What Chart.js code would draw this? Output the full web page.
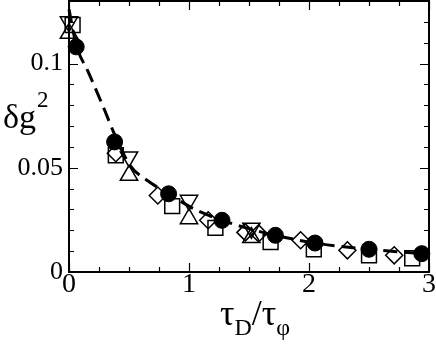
<!DOCTYPE html>
<html><head><meta charset="utf-8">
<script src="https://cdn.jsdelivr.net/npm/chart.js@4.4.1/dist/chart.umd.min.js"></script>
<style>html,body{margin:0;padding:0;background:#fff;overflow:hidden}#c{display:block}</style>
</head><body>
<canvas id="c" width="436" height="344"></canvas>
<script>
// ---- data ----
const circleX  = [0.06, 0.38, 0.83, 1.275, 1.72, 2.05, 2.50, 2.94];
const circleY  = [0.108, 0.0624, 0.0375, 0.0248, 0.0176, 0.0139, 0.0109, 0.0088];
const squareX  = [0.03, 0.39, 0.86, 1.22, 1.68, 2.04, 2.50, 2.86];
const squareY  = [0.1185, 0.056, 0.0316, 0.0212, 0.0143, 0.0109, 0.0080, 0.0066];
const diamondX = [0.39, 0.74, 1.16, 1.47, 1.58, 1.93, 2.32, 2.71];
const diamondY = [0.057, 0.0367, 0.0248, 0.0190, 0.0185, 0.0152, 0.0104, 0.0080];
const triDownX = [0.0, 0.5, 1.0, 1.52];
const triDownY = [0.120, 0.0552, 0.0344, 0.0210];
const triUpX   = [0.0, 0.5, 1.0, 1.52];
const triUpY   = [0.1145, 0.0464, 0.0256, 0.0165];
const fitX = [0, 0.06, 0.16, 0.28, 0.38, 0.51, 0.65, 0.83, 1.05, 1.275, 1.5, 1.72, 2.05, 2.5, 2.94];
const fitY = [0.126, 0.109, 0.096, 0.080, 0.066, 0.051, 0.044, 0.0375, 0.0300, 0.0248, 0.0208, 0.0176, 0.0139, 0.0109, 0.0088];
const xTickLabels = [0, 1, 2, 3];
const yTickLabels = [0, 0.05, 0.1];

const pts = (xs, ys) => xs.map((x, i) => ({x: x, y: ys[i]}));
const SERIF = '"Liberation Serif", "Times New Roman", serif';

const framePlugin = {
  id: 'frame',
  beforeDatasetsDraw(chart) {
    const ctx = chart.ctx, a = chart.chartArea, xs = chart.scales.x, ys = chart.scales.y;
    ctx.save();
    ctx.strokeStyle = '#000';
    ctx.lineWidth = 1.2;
    ctx.beginPath();
    for (let i = 0; i <= 12; i++) {
      const px = Math.round(xs.getPixelForValue(i * 0.25)) + 0.5;
      const L = (i % 4 === 0) ? 9 : 5;
      ctx.moveTo(px, a.bottom); ctx.lineTo(px, a.bottom - L);
      ctx.moveTo(px, a.top); ctx.lineTo(px, a.top + L);
    }
    for (let i = 0; i <= 12; i++) {
      const py = Math.round(ys.getPixelForValue(i * 0.01)) + 0.5;
      const L = (i % 5 === 0) ? 9 : 5;
      ctx.moveTo(a.left, py); ctx.lineTo(a.left + L, py);
      ctx.moveTo(a.right, py); ctx.lineTo(a.right - L, py);
    }
    ctx.stroke();
    ctx.lineWidth = 2;
    ctx.strokeRect(a.left, a.top, a.right - a.left, a.bottom - a.top);
    ctx.restore();
  },
  afterDraw(chart) {
    const ctx = chart.ctx;
    ctx.save();
    ctx.fillStyle = '#000';
    ctx.textBaseline = 'alphabetic';
    ctx.textAlign = 'left';
    // x title: tau_D / tau_phi
    const big = '36px ' + SERIF, small = '24px ' + SERIF;
    const parts = [['τ', big, 0], ['D', small, 10], ['/', big, 0], ['τ', big, 0], ['φ', small, 10]];
    let total = 0;
    parts.forEach(p => { ctx.font = p[1]; total += ctx.measureText(p[0]).width; });
    let x = 255 - total / 2;
    parts.forEach(p => { ctx.font = p[1]; ctx.fillText(p[0], x, 325 + p[2]); x += ctx.measureText(p[0]).width; });
    // y title: delta g^2
    ctx.font = '34px ' + SERIF;
    ctx.fillText('δg', 3, 128);
    const w = ctx.measureText('δg').width;
    ctx.font = '23px ' + SERIF;
    ctx.fillText('2', 3 + w + 1, 107);
    ctx.restore();
  }
};

const openStyle = {backgroundColor: 'rgba(0,0,0,0)', borderColor: '#000', pointBorderWidth: 1.5, clip: false};

new Chart(document.getElementById('c'), {
  type: 'scatter',
  data: {
    datasets: [
      {data: pts(circleX, circleY), pointStyle: 'circle', pointRadius: 8, backgroundColor: '#000', borderColor: '#000', clip: false},
      {data: pts(fitX, fitY), showLine: true, pointRadius: 0, borderColor: '#000', borderWidth: 3, borderDash: [14, 7], cubicInterpolationMode: 'monotone', clip: false},
      Object.assign({data: pts(triDownX, triDownY), pointStyle: 'triangle', rotation: 180, pointRadius: 10}, openStyle),
      Object.assign({data: pts(triUpX, triUpY), pointStyle: 'triangle', pointRadius: 10}, openStyle),
      Object.assign({data: pts(diamondX, diamondY), pointStyle: 'rectRot', pointRadius: 8.5}, openStyle),
      Object.assign({data: pts(squareX, squareY), pointStyle: 'rect', pointRadius: 10.5}, openStyle)
    ]
  },
  options: {
    responsive: false,
    animation: false,
    devicePixelRatio: 1,
    layout: {autoPadding: false, padding: {top: 1, right: 7, bottom: 0, left: 0}},
    plugins: {legend: {display: false}, tooltip: {enabled: false}},
    elements: {point: {hoverRadius: 0}},
    scales: {
      x: {
        type: 'linear', min: 0, max: 3,
        afterBuildTicks: s => { s.ticks = xTickLabels.map(v => ({value: v})); },
        afterFit: s => { s.height = 72; s.paddingLeft = 0; s.paddingRight = 0; },
        grid: {display: false, drawTicks: false},
        border: {display: false},
        ticks: {color: '#000', font: {family: SERIF, size: 28}, padding: -4, maxRotation: 0, callback: v => String(v)}
      },
      y: {
        type: 'linear', min: 0, max: 0.13,
        afterBuildTicks: s => { s.ticks = yTickLabels.map(v => ({value: v})); },
        afterFit: s => { s.width = 69; s.paddingTop = 0; s.paddingBottom = 0; },
        grid: {display: false, drawTicks: false},
        border: {display: false},
        ticks: {color: '#000', font: {family: SERIF, size: 26}, padding: 6, callback: v => String(v)}
      }
    }
  },
  plugins: [framePlugin]
});
</script>
</body></html>
